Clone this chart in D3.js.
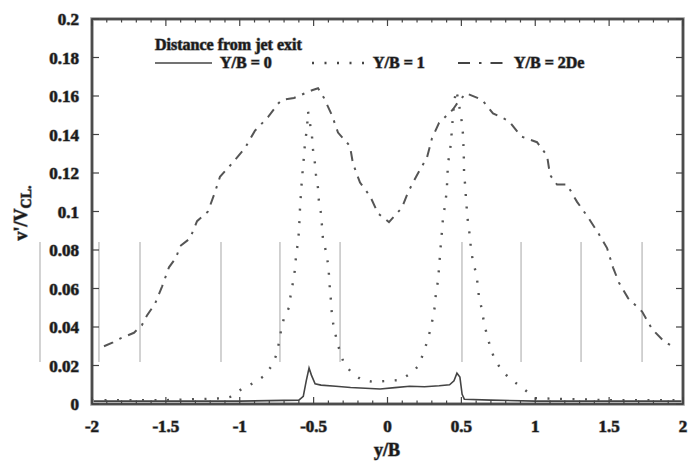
<!DOCTYPE html>
<html>
<head>
<meta charset="utf-8">
<script src="https://cdn.jsdelivr.net/npm/d3@7/dist/d3.min.js"></script>
<style>
body { margin: 0; background: #fff; }
text { font-family: "Liberation Serif", Tinos, "Times New Roman", "DejaVu Serif", serif; font-weight: bold; fill: #1a1a1a;
       stroke: #8a8a8a; stroke-width: 1.1px; paint-order: stroke fill; }
</style>
</head>
<body>
<svg id="chart" width="696" height="461"></svg>
<script>
// Y/B = 0 (solid)
var exitData = [
    [-2, 0.0015], [-1.5, 0.0015], [-1.0, 0.0015], [-0.6, 0.002], [-0.57, 0.004],
    [-0.55, 0.012], [-0.531, 0.0187], [-0.515, 0.015], [-0.49, 0.0105], [-0.45, 0.0098],
    [-0.35, 0.0092], [-0.25, 0.0086], [-0.15, 0.0082], [-0.05, 0.0078], [0.05, 0.0085],
    [0.15, 0.0092], [0.25, 0.009], [0.35, 0.0095], [0.42, 0.01], [0.45, 0.012],
    [0.47, 0.016], [0.49, 0.014], [0.505, 0.005], [0.52, 0.0025], [0.7, 0.002],
    [1.0, 0.0015], [1.5, 0.0015], [2.0, 0.0015]
];
// Y/B = 1 (dotted)
var oneData = [
    [-2, 0.002], [-1.5, 0.002], [-1.1, 0.003], [-1.05, 0.004], [-0.985, 0.008],
    [-0.904, 0.011], [-0.836, 0.0145], [-0.782, 0.02], [-0.755, 0.025], [-0.734, 0.032],
    [-0.721, 0.038], [-0.7, 0.045], [-0.667, 0.05], [-0.653, 0.058], [-0.64, 0.063],
    [-0.626, 0.07], [-0.619, 0.077], [-0.606, 0.084], [-0.599, 0.09], [-0.592, 0.102],
    [-0.585, 0.11], [-0.579, 0.117], [-0.572, 0.123], [-0.565, 0.129], [-0.558, 0.136],
    [-0.545, 0.143], [-0.538, 0.152], [-0.525, 0.146], [-0.511, 0.139], [-0.504, 0.132],
    [-0.491, 0.125], [-0.484, 0.119], [-0.47, 0.112], [-0.464, 0.105], [-0.45, 0.099],
    [-0.443, 0.092], [-0.437, 0.086], [-0.416, 0.079], [-0.403, 0.073], [-0.396, 0.067],
    [-0.39, 0.06], [-0.382, 0.053], [-0.376, 0.046], [-0.362, 0.039], [-0.342, 0.033],
    [-0.322, 0.027], [-0.294, 0.021], [-0.24, 0.016], [-0.173, 0.0125], [-0.098, 0.0115],
    [-0.003, 0.012], [0.085, 0.0125], [0.159, 0.016], [0.213, 0.02], [0.24, 0.026],
    [0.267, 0.032], [0.288, 0.038], [0.308, 0.045], [0.321, 0.051], [0.328, 0.058],
    [0.342, 0.064], [0.349, 0.071], [0.355, 0.077], [0.362, 0.084], [0.369, 0.09],
    [0.376, 0.097], [0.389, 0.103], [0.4, 0.11], [0.405, 0.117], [0.409, 0.125],
    [0.423, 0.131], [0.43, 0.137], [0.437, 0.143], [0.443, 0.15], [0.45, 0.156],
    [0.464, 0.163], [0.477, 0.159], [0.504, 0.146], [0.511, 0.14], [0.514, 0.134],
    [0.517, 0.127], [0.518, 0.121], [0.525, 0.114], [0.531, 0.107], [0.538, 0.1],
    [0.545, 0.094], [0.558, 0.087], [0.565, 0.08], [0.579, 0.074], [0.599, 0.068],
    [0.613, 0.061], [0.619, 0.055], [0.64, 0.049], [0.653, 0.042], [0.673, 0.036],
    [0.694, 0.03], [0.721, 0.024], [0.768, 0.018], [0.829, 0.013], [0.897, 0.0094],
    [1.0, 0.003], [1.5, 0.002], [2.0, 0.002]
];
// Y/B = 2De (dash-dot)
var twoDeData = [
    [-1.919, 0.03], [-1.858, 0.032], [-1.81, 0.034], [-1.716, 0.037], [-1.662, 0.041],
    [-1.628, 0.046], [-1.574, 0.052], [-1.526, 0.061], [-1.479, 0.071], [-1.431, 0.076],
    [-1.404, 0.082], [-1.337, 0.086], [-1.289, 0.095], [-1.215, 0.1], [-1.168, 0.11],
    [-1.134, 0.118], [-1.052, 0.125], [-0.964, 0.133], [-0.897, 0.142], [-0.809, 0.149],
    [-0.741, 0.156], [-0.714, 0.158], [-0.633, 0.159], [-0.511, 0.163], [-0.47, 0.164],
    [-0.43, 0.159], [-0.376, 0.15], [-0.335, 0.141], [-0.254, 0.134], [-0.234, 0.125],
    [-0.186, 0.115], [-0.118, 0.108], [-0.064, 0.099], [0.01, 0.0945], [0.098, 0.102],
    [0.139, 0.11], [0.2, 0.119], [0.267, 0.128], [0.301, 0.138], [0.349, 0.146],
    [0.443, 0.153], [0.47, 0.156], [0.531, 0.1615], [0.64, 0.158], [0.714, 0.151],
    [0.822, 0.147], [0.904, 0.139], [1.012, 0.136], [1.08, 0.129], [1.1, 0.119],
    [1.147, 0.114], [1.215, 0.114], [1.283, 0.105], [1.357, 0.097], [1.425, 0.089],
    [1.486, 0.081], [1.526, 0.071], [1.567, 0.063], [1.628, 0.055], [1.723, 0.048],
    [1.79, 0.039], [1.865, 0.033], [1.946, 0.029]
];

var xTicks = [-2, -1.5, -1, -0.5, 0, 0.5, 1, 1.5, 2];
var xTickLabels = ["-2", "-1.5", "-1", "-0.5", "0", "0.5", "1", "1.5", "2"];
var yTicks = [0, 0.02, 0.04, 0.06, 0.08, 0.1, 0.12, 0.14, 0.16, 0.18, 0.2];
var yTickLabels = ["0", "0.02", "0.04", "0.06", "0.08", "0.1", "0.12", "0.14", "0.16", "0.18", "0.2"];

// faint vertical streaks from the scanned original (in data units)
var scanStreaks = [-2.352, -1.953, -1.675, -1.127, -0.728, -0.321, 0.504, 0.904, 1.31, 1.723];

var margin = {top: 19, right: 13, bottom: 57, left: 92};
var width = 696 - margin.left - margin.right;
var height = 461 - margin.top - margin.bottom;

var svg = d3.select("#chart");
var g = svg.append("g").attr("transform", "translate(" + margin.left + "," + margin.top + ")");

var x = d3.scaleLinear().domain([-2, 2]).range([0, width]);
var y = d3.scaleLinear().domain([0, 0.2]).range([height, 0]);

// streaks
g.selectAll(".streak")
    .data(scanStreaks)
    .enter()
    .append("line")
    .attr("x1", function (d) { return x(d); })
    .attr("x2", function (d) { return x(d); })
    .attr("y1", y(0.0842))
    .attr("y2", y(0.0218))
    .attr("stroke", "#c4c4c4")
    .attr("stroke-width", 1.5);

var line = d3.line()
    .x(function (d) { return x(d[0]); })
    .y(function (d) { return y(d[1]); });

g.append("path").datum(exitData)
    .attr("d", line).attr("fill", "none")
    .attr("stroke", "#444").attr("stroke-width", 1.6);

g.append("path").datum(oneData)
    .attr("d", line).attr("fill", "none")
    .attr("stroke", "#555").attr("stroke-width", 2.4)
    .attr("stroke-dasharray", "2,10.5");

g.append("path").datum(twoDeData)
    .attr("d", line).attr("fill", "none")
    .attr("stroke", "#555").attr("stroke-width", 2)
    .attr("stroke-dasharray", "10,7,2.5,7");

// frame
g.append("rect")
    .attr("width", width).attr("height", height)
    .attr("fill", "none").attr("stroke", "#999").attr("stroke-width", 3.5);
g.append("rect")
    .attr("width", width).attr("height", height)
    .attr("fill", "none").attr("stroke", "#333").attr("stroke-width", 1.5);

// ticks (inward)
var minorX = d3.range(-20, 21).map(function (d) { return d / 10; });
[0, height].forEach(function (yy) {
    var dir = yy === 0 ? 1 : -1;
    g.selectAll(null).data(minorX).enter().append("line")
        .attr("x1", function (d) { return x(d); }).attr("x2", function (d) { return x(d); })
        .attr("y1", yy).attr("y2", function (d) { return yy + dir * (xTicks.indexOf(d) >= 0 ? 7 : 3.5); })
        .attr("stroke", "#444").attr("stroke-width", 1.2);
});
[0, width].forEach(function (xx) {
    var dir = xx === 0 ? 1 : -1;
    g.selectAll(null).data(yTicks).enter().append("line")
        .attr("x1", xx).attr("x2", xx + dir * 7)
        .attr("y1", function (d) { return y(d); }).attr("y2", function (d) { return y(d); })
        .attr("stroke", "#444").attr("stroke-width", 1.2);
});

// tick labels
g.selectAll(".xl").data(xTicks).enter().append("text")
    .attr("x", function (d) { return x(d); })
    .attr("y", height + 28)
    .attr("text-anchor", "middle")
    .attr("font-size", 17)
    .text(function (d, i) { return xTickLabels[i]; });

g.selectAll(".yl").data(yTicks).enter().append("text")
    .attr("x", -13)
    .attr("y", function (d) { return y(d) + 6; })
    .attr("text-anchor", "end")
    .attr("font-size", 17)
    .text(function (d, i) { return yTickLabels[i]; });

// axis titles
svg.append("text")
    .attr("x", 387).attr("y", 456)
    .attr("text-anchor", "middle")
    .attr("font-size", 18)
    .text("y/B");

var yt = svg.append("text")
    .attr("transform", "translate(27,213) rotate(-90)")
    .attr("text-anchor", "middle")
    .attr("font-size", 18);
yt.append("tspan").text("v'/V");
yt.append("tspan").attr("dy", 4).attr("font-size", 14).text("CL.");

// legend
svg.append("text").attr("x", 155).attr("y", 50).attr("font-size", 16).text("Distance from jet exit");

var legendItems = [
    {label: "Y/B = 0", x0: 155, x1: 212, tx: 220, dash: null, w: 1.6},
    {label: "Y/B = 1", x0: 312, x1: 368, tx: 373, dash: "2,10.5", w: 2.4},
    {label: "Y/B = 2De", x0: 458, x1: 507, tx: 514, dash: "12,9,2.5,9", w: 2}
];
var leg = svg.selectAll(".leg").data(legendItems).enter().append("g");
leg.append("line")
    .attr("x1", function (d) { return d.x0; }).attr("x2", function (d) { return d.x1; })
    .attr("y1", 63).attr("y2", 63)
    .attr("stroke", "#444")
    .attr("stroke-width", function (d) { return d.w; })
    .attr("stroke-dasharray", function (d) { return d.dash; });
leg.append("text")
    .attr("x", function (d) { return d.tx; })
    .attr("y", 68)
    .attr("font-size", 16)
    .text(function (d) { return d.label; });
</script>
</body>
</html>
